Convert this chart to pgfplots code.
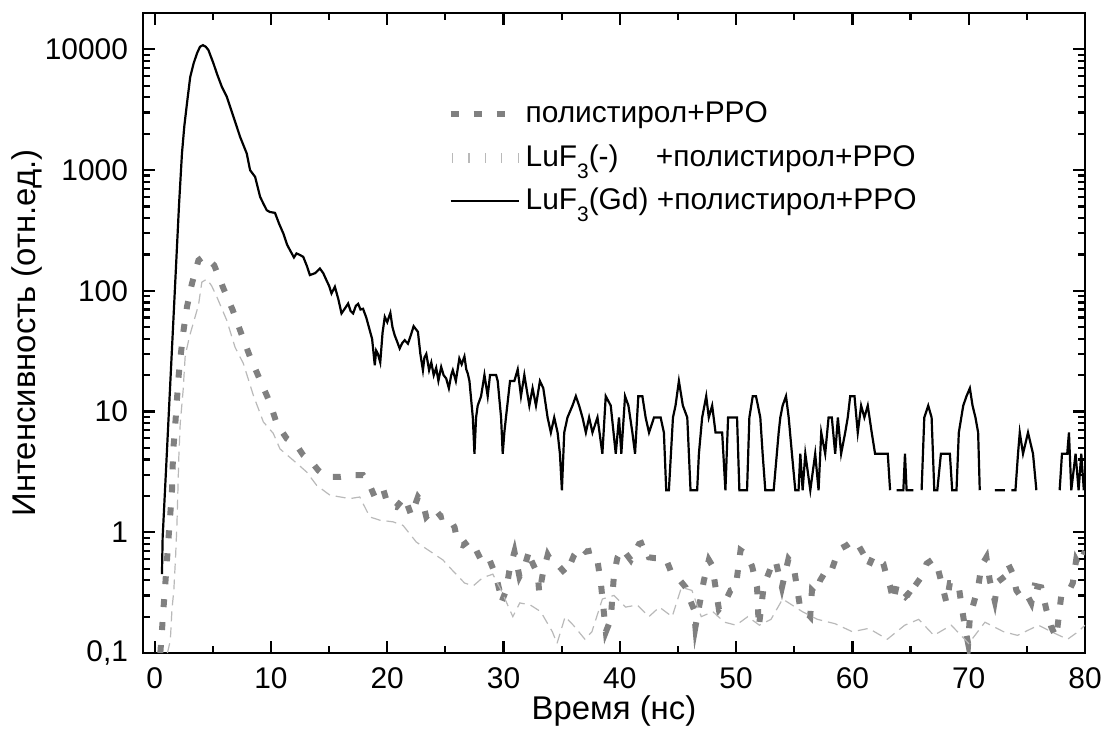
\documentclass[border=0pt]{standalone}
\usepackage{fontspec}
\setmainfont{Liberation Sans}
\usepackage{pgfplots}
\pgfplotsset{compat=1.18}
\newcommand{\subthree}{\raisebox{-6bp}{\fontsize{10.5}{11}\selectfont 3}}

\begin{document}
\begin{tikzpicture}
\begin{axis}[
    scale only axis,
    width=471bp, height=320bp,
    xmin=-1, xmax=80,
    ymode=log, ymin=0.1, ymax=20000,
    xtick={0,10,...,80},
    minor x tick num=1,
    ytick={0.1,1,10,100,1000,10000},
    yticklabels={{0,1},1,10,100,1000,10000},
    minor ytick={0.2,0.3,0.4,0.5,0.6,0.7,0.8,0.9,2,3,4,5,6,7,8,9,20,30,40,50,60,70,80,90,200,300,400,500,600,700,800,900,2000,3000,4000,5000,6000,7000,8000,9000,20000},
    tick align=inside,
    major tick length=6bp, minor tick length=3.5bp,
    every tick/.style={black, line width=1.1bp},
    axis line style={line width=1.2bp},
    /pgf/number format/assume math mode=true,
    tick label style={font=\fontsize{15}{17}\selectfont},
    yticklabel style={xshift=-4bp},
    label style={font=\fontsize{16.5}{19}\selectfont},
    xticklabel shift=4bp,
    xlabel shift=-3.5bp, ylabel shift=-5.5bp,
    xlabel={Время (нс)},
    ylabel={Интенсивность (отн.ед.)},
    unbounded coords=jump,
    legend style={at={(0.323,0.868)}, anchor=north west, draw=none, fill=none,
        font=\fontsize{15}{17}\selectfont, inner sep=0pt, row sep=5.5bp},
    legend cell align=left,
    legend image code/.code={\draw[#1] (0bp,0bp) -- (34bp,0bp);},
]
% polystyrene + PPO
\addplot[gray, line width=3bp, dash pattern=on 4bp off 7.5bp] coordinates {
(0.49,0.1)(0.63,0.154)(0.77,0.24)(0.92,0.376)(1.06,0.586)(1.2,0.91)(1.35,1.43)(1.49,2.16)(1.54,3.37)(1.63,5.19)
(1.78,7.95)(1.92,12.6)(2.06,19.6)(2.26,30.3)(2.49,47.2)(2.78,73.6)(3.21,115)(3.77,179)(4.3,195)(5.12,163)
(5.92,104.5)(6.72,69)(7.5,42.9)(8.21,28.3)(9.07,18.2)(9.92,11.8)(10.5,7.95)(11.36,5.97)(12.21,5.26)(12.78,4.35)
(13.5,3.82)(14.07,3.26)(14.78,2.87)(15.93,2.87)(17.07,2.97)(17.92,2.97)(18.5,2.45)(18.93,1.96)(19.64,2.3)(20.07,1.67)
(20.79,1.62)(21.5,1.96)(22.07,1.38)(22.64,1.96)(23.07,1.73)(23.36,1.34)(24.07,1.57)(24.64,1.34)(25.21,1.38)(25.79,1.1)
(26.07,0.806)(26.5,0.78)(27.08,0.86)(27.65,0.71)(28.22,0.55)(28.8,0.59)(29.37,0.43)(29.65,0.33)(29.8,0.26)(30.22,0.33)
(30.5,0.48)(30.94,0.69)(31.37,0.43)(31.8,0.52)(32.22,0.71)(32.37,0.59)(32.94,0.45)(33.08,0.31)(33.37,0.45)(33.8,0.65)
(34.22,0.55)(34.8,0.52)(35.37,0.45)(36.08,0.65)(36.65,0.76)(37.08,0.69)(37.65,0.71)(38.08,0.58)(38.37,0.38)(38.8,0.15)
(39.22,0.19)(39.5,0.45)(39.8,0.62)(40.22,0.73)(40.94,0.59)(41.65,0.8)(42.08,0.83)(42.51,0.62)(43.08,0.61)(43.94,0.61)
(44.37,0.48)(45.08,0.41)(45.66,0.35)(45.94,0.29)(46.37,0.23)(46.5,0.164)(47.23,0.4)(47.66,0.59)(47.95,0.53)(48.23,0.35)
(48.52,0.23)(49.09,0.27)(49.52,0.33)(49.95,0.34)(50.38,0.71)(50.95,0.65)(51.38,0.52)(51.8,0.35)(51.95,0.164)(52.38,0.36)
(52.95,0.5)(53.38,0.59)(53.94,0.35)(54.5,0.6)(54.94,0.53)(55.23,0.35)(55.5,0.24)(55.95,0.22)(56.37,0.2)(56.52,0.33)
(56.8,0.31)(57.23,0.4)(57.66,0.47)(58.09,0.45)(58.52,0.59)(58.95,0.73)(59.52,0.78)(60.09,0.86)(60.52,0.78)(60.95,0.66)
(61.38,0.52)(61.8,0.64)(62.23,0.59)(62.66,0.55)(62.95,0.43)(63.23,0.36)(63.52,0.27)(63.8,0.36)(64.23,0.3)(64.52,0.29)
(64.8,0.31)(65.24,0.29)(65.38,0.36)(65.95,0.43)(66.38,0.55)(66.95,0.6)(67.24,0.55)(67.67,0.38)(68.09,0.26)(68.38,0.38)
(69.1,0.38)(69.38,0.25)(69.67,0.164)(69.95,0.12)(70.1,0.2)(70.81,0.35)(71.1,0.53)(71.52,0.62)(71.81,0.4)(72.24,0.27)
(72.52,0.39)(73.1,0.43)(73.38,0.55)(73.81,0.45)(74.1,0.33)(74.52,0.29)(74.96,0.31)(75.38,0.26)(75.67,0.36)(76.24,0.35)
(76.67,0.23)(77.1,0.164)(77.53,0.135)(77.96,0.3)(78.5,0.31)(78.95,0.38)(79.24,0.59)(79.5,0.53)(80,0.7)
};
\addlegendentry{полистирол+PPO}
% LuF3(-) + polystyrene + PPO
\addplot[gray!55, line width=0.6bp, dash pattern=on 5bp off 3bp,
    legend image code/.code={\foreach \i in {0,...,4}
        {\draw[gray!55, line width=0.6bp] (\i*8.2bp+1bp,-2.8bp) -- (\i*8.2bp+1bp,2.8bp);}}] coordinates {
(1.1,0.1)(1.35,0.127)(1.49,0.23)(1.65,0.33)(1.8,0.62)(1.92,1.18)(2.0,2.2)(2.08,4.2)(2.2,7.95)(2.45,15)
(2.63,29)(3.0,42)(3.35,55)(3.77,76)(4.06,118)(4.49,125)(4.9,110)(5.35,89)(6.2,57)(6.92,34)
(7.63,25)(8.49,13.6)(9.35,8.2)(10.2,6.6)(10.78,4.9)(11.92,3.95)(13.07,3.16)(13.93,2.45)(15.07,2.03)(16.78,1.9)
(17.64,1.96)(18.5,1.34)(19.36,1.26)(20.5,1.22)(21.36,1.14)(22.5,0.83)(23.36,0.73)(24.79,0.59)(25.64,0.48)(26.65,0.38)
(27.4,0.36)(28.2,0.42)(29.08,0.45)(29.8,0.33)(30.8,0.2)(31.4,0.26)(32.3,0.25)(33.2,0.22)(34.2,0.15)(34.6,0.12)
(35.3,0.2)(36,0.17)(37,0.13)(37.6,0.15)(38.5,0.28)(39.5,0.3)(40.5,0.24)(41.5,0.25)(42.5,0.2)(43.4,0.24)
(44.5,0.2)(45.3,0.35)(46.2,0.33)(47,0.2)(48,0.22)(49,0.18)(50,0.17)(51,0.2)(52,0.17)(53,0.19)
(54,0.28)(55.7,0.22)(57,0.19)(58.5,0.175)(60,0.15)(61.4,0.16)(63,0.13)(64.5,0.17)(65.7,0.19)(67,0.14)
(68.5,0.17)(70,0.12)(71.4,0.18)(73,0.15)(74.2,0.14)(76,0.17)(77.1,0.15)(78.5,0.13)(79.4,0.15)(80,0.17)
};
\addlegendentry{LuF\subthree(-)\hspace{1.25em}+полистирол+PPO}
% LuF3(Gd) + polystyrene + PPO
\addplot[black, line width=1.1bp] coordinates {
(0.63,0.45)(0.69,0.91)(1.0,3.6)(1.3,14)(1.6,54)(1.9,210)(2.1,520)(2.35,1370)(2.55,2300)(2.78,3560)
(3.06,5900)(3.35,7640)(3.64,9250)(3.9,10500)(4.15,10830)(4.4,10500)(4.63,9840)(5.06,7640)(5.35,6310)(5.78,4890)
(6.21,4040)(6.78,2760)(7.35,1884)(7.92,1372)(8.21,998)(8.64,879)(9.07,600)(9.35,528)(9.64,465)(9.9,450)
(10.35,442)(10.7,360)(11.07,298)(11.4,240)(11.64,217)(11.98,189)(12.2,204)(12.5,198)(12.78,191)(13.1,160)
(13.35,135)(13.8,140)(14.21,153)(14.5,140)(14.78,122)(15.0,110)(15.21,95)(15.5,108)(15.8,85)(16.07,65)
(16.3,70)(16.64,78.5)(16.85,68)(17.07,65)(17.3,75)(17.5,78)(17.7,70)(17.92,71)(18.2,60)(18.5,47)
(18.7,40)(18.93,24.2)(19.05,32)(19.2,30)(19.4,25.5)(19.6,45)(19.79,60.8)(20.0,55)(20.27,65.6)(20.45,50)
(20.64,42.9)(20.85,38)(21.07,33.3)(21.3,37)(21.5,39)(21.78,36.5)(22.0,42)(22.27,50.9)(22.64,45.7)(22.85,30)
(23.07,22)(23.2,28)(23.36,30)(23.6,22)(23.79,25.5)(24.0,20)(24.21,23)(24.4,18)(24.64,23.4)(24.85,20)
(25.07,18.8)(25.3,15.6)(25.5,20)(25.64,22)(25.9,17.9)(26.2,27.5)(26.4,24.6)(26.64,28.6)(26.8,22.3)(26.93,20.6)
(27.07,17.9)(27.36,8.93)(27.5,4.47)(27.64,8.93)(27.78,11.2)(28.07,13.4)(28.36,20.1)(28.64,13.4)(28.84,20.1)(29.36,20.1)
(29.5,17.9)(29.79,8.93)(29.93,4.47)(30.07,6.7)(30.21,8.93)(30.56,17.9)(30.93,17.9)(31.22,22.3)(31.5,13.4)(31.79,20.1)
(32.22,11.2)(32.5,15.6)(32.79,11.2)(33.13,17.9)(33.42,15.6)(33.79,8.93)(34.07,6.7)(34.36,8.93)(34.65,6.7)(34.85,4.47)
(35.02,2.23)(35.22,6.7)(35.5,8.93)(35.93,11.2)(36.22,13.4)(36.5,11.2)(36.79,8.93)(37.08,6.7)(37.36,8.93)(37.65,6.7)
(38.08,8.93)(38.5,4.47)(38.79,13.4)(39.22,11.2)(39.65,4.47)(39.93,8.93)(40.13,4.47)(40.45,13.4)(40.74,11.2)(41.08,6.7)
(41.31,4.47)(41.59,13.4)(41.94,13.4)(42.22,8.93)(42.51,6.7)(42.94,8.93)(43.51,8.93)(43.79,6.7)(43.99,2.23)(44.22,2.23)
(44.57,8.93)(44.79,11.2)(45.08,17.9)(45.42,11.2)(45.8,8.93)(46.08,2.23)(46.65,2.23)(46.8,4.47)(47.08,8.93)(47.43,13.4)
(47.65,8.93)(47.94,11.2)(48.23,6.7)(48.8,6.7)(49.08,2.23)(49.31,8.93)(50.08,8.93)(50.28,2.23)(50.94,2.23)(51.14,8.93)
(51.43,13.4)(51.71,13.4)(52.08,8.93)(52.28,4.47)(52.51,2.23)(53.23,2.23)(53.66,6.7)(53.8,8.93)(54.0,11.2)(54.29,13.4)
(54.52,8.93)(54.8,4.47)(55.09,2.23)(55.37,2.23)(55.52,4.47)(55.72,2.23)(55.95,4.47)(56.38,2.23)(56.8,4.47)(57.09,2.23)
(57.32,6.7)(57.66,4.47)(57.95,8.93)(58.23,8.93)(58.52,4.47)(58.75,8.93)(59.03,4.47)(59.38,6.7)(59.6,8.93)(59.81,13.4)
(60.18,13.4)(60.46,6.7)(60.75,11.2)(61.03,8.93)(61.32,11.2)(61.66,6.7)(61.95,4.47)(63.04,4.47)(63.24,2.23)(63.52,nan)
(63.81,2.23)(64.38,2.23)(64.52,4.47)(64.66,2.23)(65.24,2.23)(65.61,nan)(65.95,2.23)(66.18,8.93)(66.52,11.2)(66.81,8.93)
(67.04,2.23)(67.3,2.23)(67.61,4.47)(68.38,4.47)(68.58,2.23)(68.95,2.23)(69.15,6.7)(69.53,11.2)(69.81,13.4)(70.1,15.6)
(70.33,11.2)(70.58,8.93)(70.81,6.7)(70.95,2.23)(71.38,nan)(72.24,2.23)(73.1,2.23)(73.38,nan)(73.67,2.23)(74.02,2.23)
(74.24,4.47)(74.39,6.7)(74.67,4.47)(75.1,6.7)(75.53,4.47)(75.82,2.23)(76.24,nan)(77.82,2.23)(78.02,4.47)(78.47,4.47)
(78.62,6.7)(78.82,2.23)(79.19,4.47)(79.45,2.23)(79.68,4.47)(79.9,2.23)
};
\addlegendentry{LuF\subthree(Gd) +полистирол+PPO}
\end{axis}
% page margins around the axis box, as in the reference
\path (current axis.north west) ++(-71.5bp,6.5bp) coordinate (bbnw);
\path (current axis.south east) ++(10.5bp,-42.5bp) coordinate (bbse);
\pgfresetboundingbox
\useasboundingbox (bbnw) rectangle (bbse);
\end{tikzpicture}
\end{document}
